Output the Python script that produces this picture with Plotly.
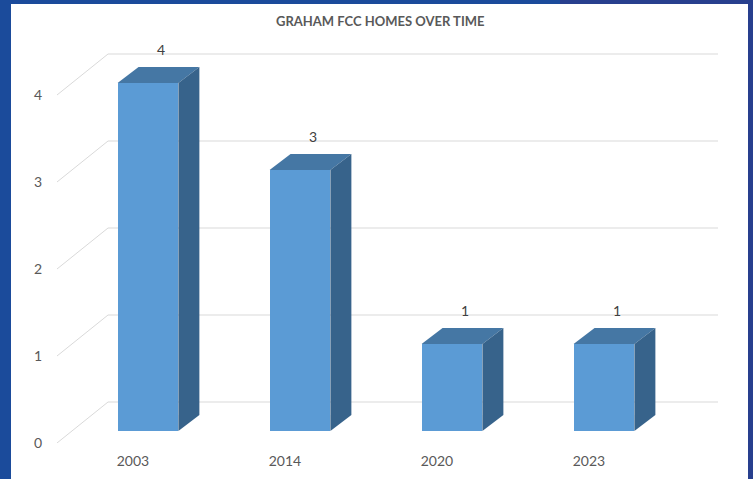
import plotly.graph_objects as go

# ---- data ----
years = ["2003", "2014", "2020", "2023"]
homes = [4, 3, 1, 1]
y_ticks = [0, 1, 2, 3, 4]
title_text = "GRAHAM FCC HOMES OVER TIME"

# ---- styling / geometry (in axis units) ----
W, H = 753, 479
L, R, T, B = 57, 35, 40, 36
bar_w = 0.40          # bar width in category units
dx, dy = 0.138, 0.184 # bar depth offset
front_dy = -12 / 87   # front plane relative to bar plane
back_dy = 29 / 87     # back wall relative to bar plane
x_front = -0.5987
x_back = -0.263
x_right = 3.75
label_dx = -0.099

c_front = "#5B9BD5"
c_top = "#4577A4"
c_side = "#37638B"
grid_c = "#D9D9D9"
txt_c = "#595959"
font_f = "Lato, 'Open Sans', sans-serif"

fig = go.Figure()

xs = list(range(len(years)))

# front faces
fig.add_trace(go.Bar(x=xs, y=homes, width=bar_w, marker=dict(color=c_front, line=dict(width=0)),
                     hoverinfo="skip", showlegend=False))

# top & side faces
for i, v in zip(xs, homes):
    xl, xr = i - bar_w / 2, i + bar_w / 2
    fig.add_trace(go.Scatter(
        x=[xl, xl + dx, xr + dx, xr, xl], y=[v, v + dy, v + dy, v, v],
        fill="toself", fillcolor=c_top, mode="lines", line=dict(width=0, color=c_top),
        hoverinfo="skip", showlegend=False))
    fig.add_trace(go.Scatter(
        x=[xr, xr, xr + dx, xr + dx, xr], y=[0, v, v + dy, dy, 0],
        fill="toself", fillcolor=c_side, mode="lines", line=dict(width=0, color=c_side),
        hoverinfo="skip", showlegend=False))

PW, PH = W - L - R, H - T - B
shapes = []
# right side of frame is a darker blue
shapes.append(dict(type="rect", xref="paper", yref="paper", layer="below",
                   x0=(560 - L) / PW, x1=(W + 5 - L) / PW,
                   y0=-0.2, y1=(H - B + 5) / PH,
                   fillcolor="#283F8E", line=dict(width=0)))
# white chart area over blue frame
shapes.append(dict(type="rect", xref="paper", yref="paper", layer="below",
                   x0=(11 - L) / PW, x1=(748 - L) / PW,
                   y0=-0.2, y1=(H - B - 4) / PH,
                   fillcolor="white", line=dict(width=0)))
# gridlines: front diagonal + back wall
for t in y_ticks:
    shapes.append(dict(type="path", xref="x", yref="y", layer="below",
                       path=f"M {x_front},{t + front_dy} L {x_back},{t + back_dy} L {x_right},{t + back_dy}",
                       line=dict(color=grid_c, width=1)))

annotations = []
for i, v in zip(xs, homes):
    annotations.append(dict(x=i + dx / 2, y=v + dy, text=str(v), showarrow=False,
                            yanchor="middle", yshift=17, xshift=3,
                            font=dict(family=font_f, size=14, color="#404040")))

fig.update_layout(
    width=W, height=H,
    margin=dict(l=L, r=R, t=T, b=B),
    paper_bgcolor="#1B4B9B",
    plot_bgcolor="white",
    shapes=shapes,
    annotations=annotations,
    title=dict(text=f"<b>{title_text}</b>", x=0.505, xanchor="center", y=1 - 21 / H,
               yanchor="middle", font=dict(family=font_f, size=13, color=txt_c)),
    xaxis=dict(range=[x_front, x_right], tickvals=[i + label_dx for i in xs], ticktext=years,
               showgrid=False, zeroline=False, showline=False, automargin=False,
               ticks="outside", ticklen=5, tickcolor="rgba(0,0,0,0)",
               tickfont=dict(family=font_f, size=14, color=txt_c)),
    yaxis=dict(range=[front_dy, (431 - T) / 87], tickvals=[t + front_dy for t in y_ticks],
               ticktext=[str(t) for t in y_ticks],
               showgrid=False, zeroline=False, showline=False, automargin=False,
               ticks="outside", ticklen=11, tickcolor="rgba(0,0,0,0)",
               tickfont=dict(family=font_f, size=14, color=txt_c)),
    bargap=0,
)

fig.write_html("out.html", config={"displayModeBar": False},
               post_script="document.body.style.margin='0';document.body.style.overflow='hidden';")
